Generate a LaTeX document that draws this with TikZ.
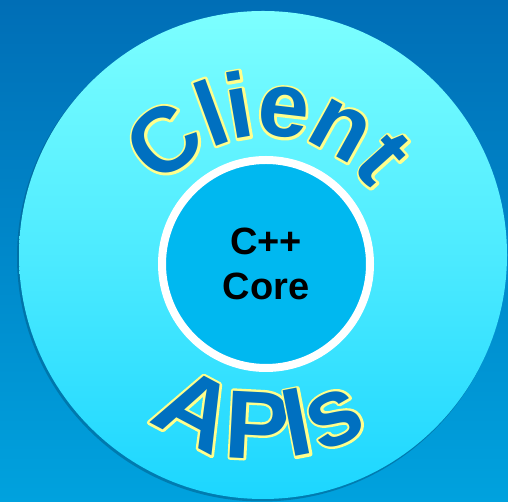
\documentclass[tikz,border=0pt]{standalone}
\usepackage{fontspec}
\setmainfont{Liberation Sans}
\usetikzlibrary{calc}
\definecolor{bgtop}{RGB}{0,110,182}
\definecolor{bgbot}{RGB}{0,162,222}
\definecolor{disktop}{RGB}{125,255,255}
\definecolor{diskbot}{RGB}{28,214,255}
\definecolor{diskshadow}{RGB}{0,95,140}
\definecolor{corefill}{RGB}{0,184,240}
\definecolor{wordblue}{RGB}{0,112,192}
\definecolor{wordedge}{RGB}{255,255,140}
\tikzset{
  glyph/.style={anchor=base, inner sep=0pt, outer sep=0pt},
  topword/.style={font=\fontsize{92}{92}\selectfont\bfseries},
  botword/.style={font=\fontsize{97}{97}\selectfont\bfseries},
}
% yellow stroked outline under the blue letter
\newcommand{\edgeon}{\special{pdf:literal direct 1 j 1 J 4.8 w 1 1 0.549 RG 2 Tr}}
\newcommand{\edgeoff}{\special{pdf:literal direct 0 Tr}}
\newcommand{\edged}[1]{\rlap{\edgeon#1\edgeoff}#1}
% #1 name, #2 word style, #3 angle, #4 radius, #5 rotation, #6 character, #7 extra
\newcommand{\arcchar}[7]{%
  \coordinate (#1) at ($(core.center)+(#3:#4)$);
  \node[glyph, #2, text=wordblue, rotate=#5, #7] (#1-t) at (#1) {\edged{#6}};
}
\begin{document}
\begin{tikzpicture}[x=1pt,y=1pt]
  \useasboundingbox (0,0) rectangle (508,502);
  \shade[top color=bgtop, bottom color=bgbot] (0,0) rectangle (508,502);
  % disk with soft edge shadow
  \fill[diskshadow, opacity=0.55] (261.5,245) circle (244.5);
  \node (disk) [circle, minimum size=488pt, inner sep=0pt,
        top color=disktop, bottom color=diskbot] at (263,247) {};
  % core
  \node (core) [circle, minimum size=208pt, inner sep=0pt,
        fill=corefill, draw=white, line width=8pt] at (266,238) {};
  \node (coretext) [align=center, font=\fontsize{38}{45}\selectfont\bfseries]
        at (core.center) {C++\\Core};
  % Client
  \arcchar{c1}{topword}{129.6}{128}{39.6}{C}{}
  \arcchar{c2}{topword}{110}{128}{20}{l}{}
  \arcchar{c3}{topword}{99.7}{128}{9.7}{i}{}
  \arcchar{c4}{topword}{83.4}{128}{-6.6}{e}{}
  \arcchar{c5}{topword}{61}{128}{-29}{n}{}
  \arcchar{c6}{topword}{42}{128}{-48}{t}{}
  % APIs
  \arcchar{a1}{botword}{-116}{195}{-28}{A}{xscale=1.08}
  \arcchar{a2}{botword}{-93}{195}{-3}{P}{}
  \arcchar{a3}{botword}{-79}{195}{11}{I}{}
  \arcchar{a4}{botword}{-66}{195}{24}{s}{}
\end{tikzpicture}
\end{document}
